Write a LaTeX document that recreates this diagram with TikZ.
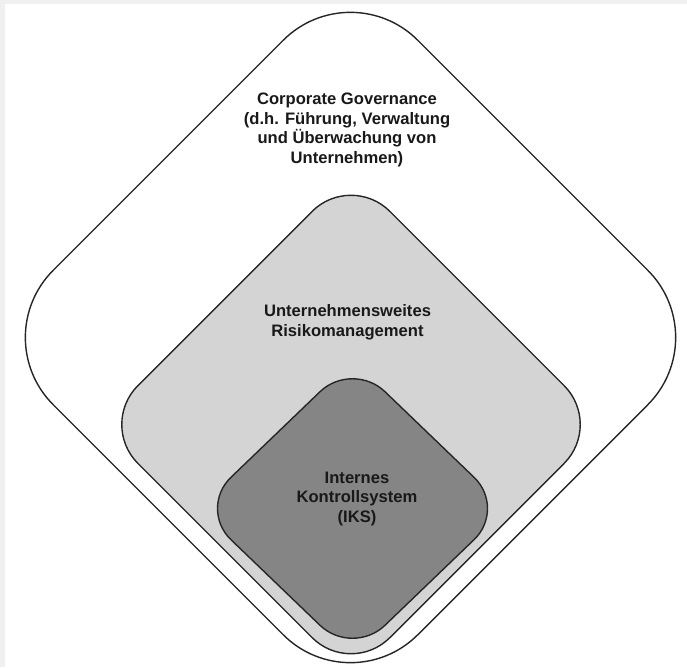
\documentclass[tikz,border=0pt]{standalone}
\usepackage{fontspec}
\setmainfont{Liberation Sans}
\usetikzlibrary{calc}
\begin{document}
\begin{tikzpicture}[x=1pt,y=-1pt,
  shapeline/.style={draw=black!85, line width=1.4pt},
  lbl/.style={font=\bfseries\fontsize{16.6}{19.8}\selectfont, align=center, text=black!90, inner sep=0pt}]
\useasboundingbox (0,0) rectangle (687,667);
\fill[white] (0,0) rectangle (687,667);
\fill[black!6] (0,0) rectangle (687,4);
\fill[black!6] (0,0) rectangle (5,667);
% outer
\coordinate (oc) at (350.5,337.5);
\draw[shapeline, fill=white, rounded corners=95pt]
  ($(oc)+(0,-364.5)$) -- ($(oc)+(364.5,0)$) -- ($(oc)+(0,364.5)$) -- ($(oc)+(-364.5,0)$) -- cycle;
% middle
\coordinate (mc) at (351,424.5);
\draw[shapeline, fill=black!17, rounded corners=55pt]
  ($(mc)+(0,-252)$) -- ($(mc)+(252,0)$) -- ($(mc)+(0,252)$) -- ($(mc)+(-252,0)$) -- cycle;
% inner
\coordinate (ic) at (352.5,508.5);
\draw[shapeline, fill=black!48, rounded corners=45pt]
  ($(ic)+(0,-148)$) -- ($(ic)+(154,0)$) -- ($(ic)+(0,148)$) -- ($(ic)+(-154,0)$) -- cycle;
\node[lbl] (cg) at (347,130) {Corporate Governance\\(d.h. Führung, Verwaltung\\und Überwachung von\\Unternehmen)};
\node[lbl] (erm) at (347.5,322) {Unternehmensweites\\Risikomanagement};
\node[lbl] (iks) at (357,499) {Internes\\Kontrollsystem\\(IKS)};
\end{tikzpicture}
\end{document}
